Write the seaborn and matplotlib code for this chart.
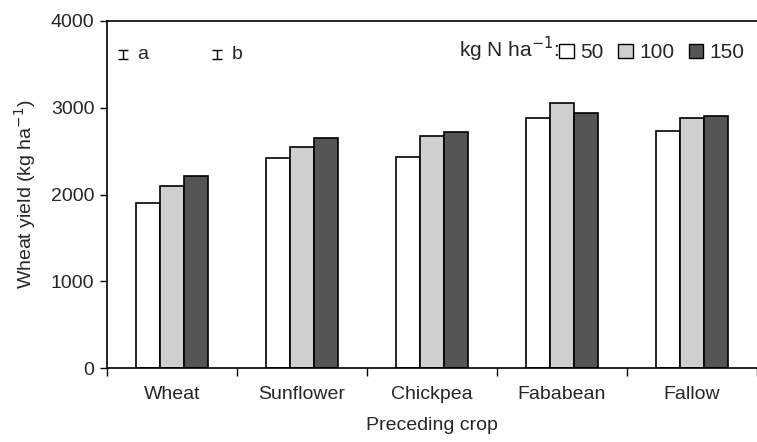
import matplotlib.pyplot as plt
import pandas as pd
import seaborn as sns
from matplotlib.patches import Patch
from matplotlib.ticker import FixedLocator

crops = ['Wheat', 'Sunflower', 'Chickpea', 'Fababean', 'Fallow']
rates = ['50', '100', '150']
yield_50 = [1900, 2420, 2430, 2880, 2730]
yield_100 = [2100, 2550, 2670, 3060, 2880]
yield_150 = [2210, 2650, 2720, 2940, 2900]
colors = ['#ffffff', '#cfcfcf', '#555555']

df = pd.DataFrame({
    'Preceding crop': crops * 3,
    'Rate': [r for r in rates for _ in crops],
    'Yield': yield_50 + yield_100 + yield_150,
})

sns.set_style('ticks')
plt.rcParams['font.family'] = ['Liberation Sans', 'DejaVu Sans']
plt.rcParams['font.size'] = 14

fig = plt.figure(figsize=(7.57, 4.42), dpi=100)
ax = fig.add_axes([0.1413, 0.1674, 0.8587, 0.7851])

sns.barplot(data=df, x='Preceding crop', y='Yield', hue='Rate', hue_order=rates,
            palette=colors, edgecolor='black', linewidth=1.2, width=0.55,
            saturation=1, ax=ax, legend=False)

ax.set_xlim(-0.5, 4.5)
ax.set_ylim(0, 4000)
ax.set_yticks([0, 1000, 2000, 3000, 4000])
ax.tick_params(axis='y', labelsize=14, length=5, width=1, color='black', pad=4)
ax.tick_params(axis='x', which='major', length=0, labelsize=14, pad=13)
ax.xaxis.set_minor_locator(FixedLocator([-0.5, 0.5, 1.5, 2.5, 3.5, 4.5]))
ax.tick_params(axis='x', which='minor', length=6, width=1, color='black')
ax.set_xlabel('Preceding crop', fontsize=14, labelpad=10)
ax.set_ylabel('Wheat yield (kg ha$^{-1}$)', fontsize=14, labelpad=9)

for side in ['left', 'bottom', 'top']:
    ax.spines[side].set_linewidth(1.2)
    ax.spines[side].set_color('black')
ax.spines['right'].set_visible(False)

# LSD bars
ax.errorbar([-0.377, 0.346], [3613, 3613], yerr=50, fmt='none', ecolor='black',
            elinewidth=1, capsize=3.5, capthick=1)
ax.text(-0.27, 3613, 'a', va='center', ha='left', fontsize=14)
ax.text(0.46, 3613, 'b', va='center', ha='left', fontsize=14)

handles = [Patch(facecolor=c, edgecolor='black', linewidth=1) for c in colors]
leg = ax.legend(handles, rates, ncol=3, loc='upper right', bbox_to_anchor=(1.0, 0.972),
                frameon=False, fontsize=15, handlelength=0.7, handleheight=0.7,
                handletextpad=0.3, columnspacing=0.7, borderaxespad=0.2)
ax.text(0.695, 0.896, 'kg N ha$^{-1}$:', transform=ax.transAxes, ha='right',
        va='baseline', fontsize=15)

fig.savefig('out.png', dpi=100)
